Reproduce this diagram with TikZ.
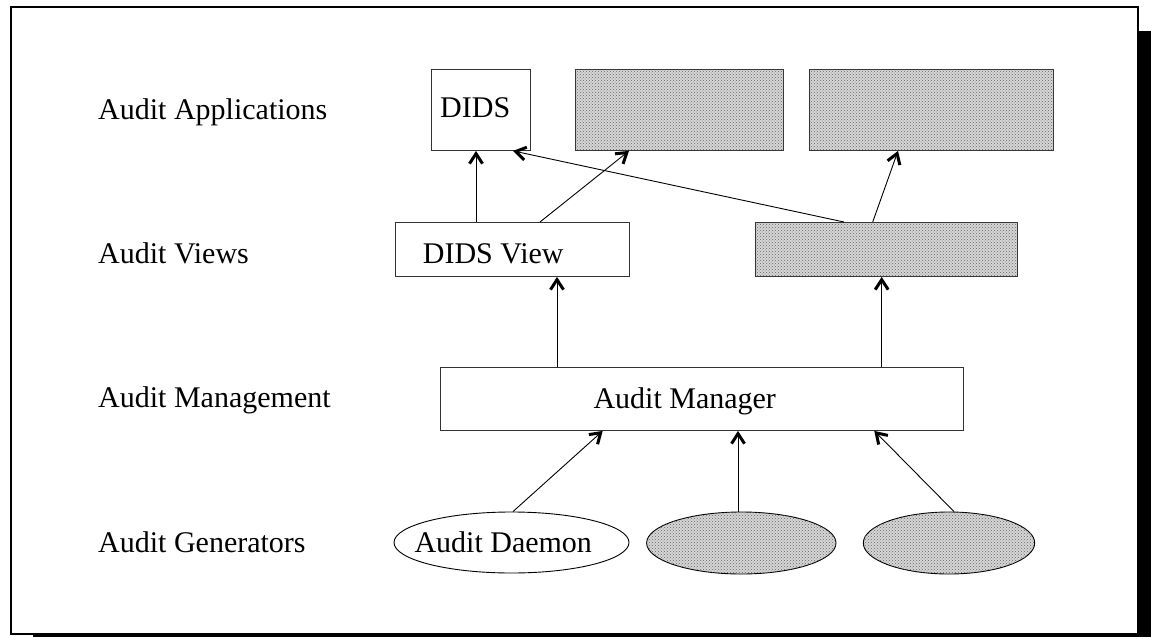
\documentclass[tikz,border=0pt]{standalone}
\usepackage{fontspec}
\setmainfont{Liberation Serif}
\usetikzlibrary{arrows.meta,patterns,shapes.geometric}

\tikzset{
  frameline/.style={line width=2pt},
  boxnode/.style={draw=black!80, line width=0.9pt, rectangle, inner sep=0pt, anchor=north west},
  ovalnode/.style={draw=black, line width=0.9pt, ellipse, inner sep=0pt},
  shaded/.style={fill=black!16, postaction={pattern=crosshatch dots, pattern color=black!60}},
  txt/.style={inner sep=0pt, anchor=base west, font=\fontsize{30}{34}\selectfont},
  link/.style={line width=0.9pt, -{Straight Barb[length=10pt,width=13pt,line width=3pt 0]}}
}

\begin{document}
\begin{tikzpicture}[x=1pt,y=-1pt]
  \useasboundingbox (0,0) rectangle (1151,637);
  \fill[white] (0,0) rectangle (1151,637);
  % page frame with drop shadow
  \fill[black] (33,31) rectangle (1151,637);
  \draw[frameline, fill=white] (11,7) rectangle (1138,634);

  % layer captions
  \node[txt] (lapp)  at (98,119.5) {Audit Applications};
  \node[txt] (lview) at (98,263.5) {Audit Views};
  \node[txt] (lmgmt) at (98,407)   {Audit Management};
  \node[txt] (lgen)  at (98,552.5) {Audit Generators};

  % applications
  \node[boxnode, minimum width=99, minimum height=81] (dids) at (431,69) {};
  \node[boxnode, shaded, minimum width=208, minimum height=81] (app2) at (575,69) {};
  \node[boxnode, shaded, minimum width=244, minimum height=81] (app3) at (809,69) {};
  \node[txt] (tdids) at (440,117.5) {DIDS};

  % views
  \node[boxnode, minimum width=234, minimum height=54] (dview) at (395,222) {};
  \node[boxnode, shaded, minimum width=262, minimum height=54] (view2) at (755,222) {};
  \node[txt] (tdview) at (422.7,263.5) {DIDS View};

  % management
  \node[boxnode, minimum width=523, minimum height=63] (mgr) at (440,367) {};
  \node[txt] (tmgr) at (593.3,408.5) {Audit Manager};

  % generators
  \node[ovalnode, minimum width=235, minimum height=61] (gen1) at (511.5,542.5) {};
  \node[ovalnode, shaded, minimum width=189.4, minimum height=62] (gen2) at (741.3,543) {};
  \node[ovalnode, shaded, minimum width=171.4, minimum height=62] (gen3) at (949,543) {};
  \node[txt] (tdaemon) at (414.3,552) {Audit Daemon};

  % data flow
  \draw[link] ([xshift=81pt]dview.north west) -- ([xshift=45pt]dids.south west);
  \draw[link] ([xshift=145pt]dview.north west) -- ([xshift=54pt]app2.south west);
  \draw[link] ([xshift=89pt]view2.north west) -- ([xshift=82pt]dids.south west);
  \draw[link] ([xshift=117.7pt]view2.north west) -- ([xshift=89pt]app3.south west);
  \draw[link] ([xshift=117pt]mgr.north west) -- ([xshift=162pt]dview.south west);
  \draw[link] ([xshift=441.7pt]mgr.north west) -- ([xshift=126.7pt]view2.south west);
  \draw[link] ([xshift=1.5pt]gen1.north) -- ([xshift=162.7pt]mgr.south west);
  \draw[link] ([xshift=-3.3pt]gen2.north) -- ([xshift=298pt]mgr.south west);
  \draw[link] ([xshift=5pt]gen3.north) -- ([xshift=434.3pt]mgr.south west);
\end{tikzpicture}
\end{document}
